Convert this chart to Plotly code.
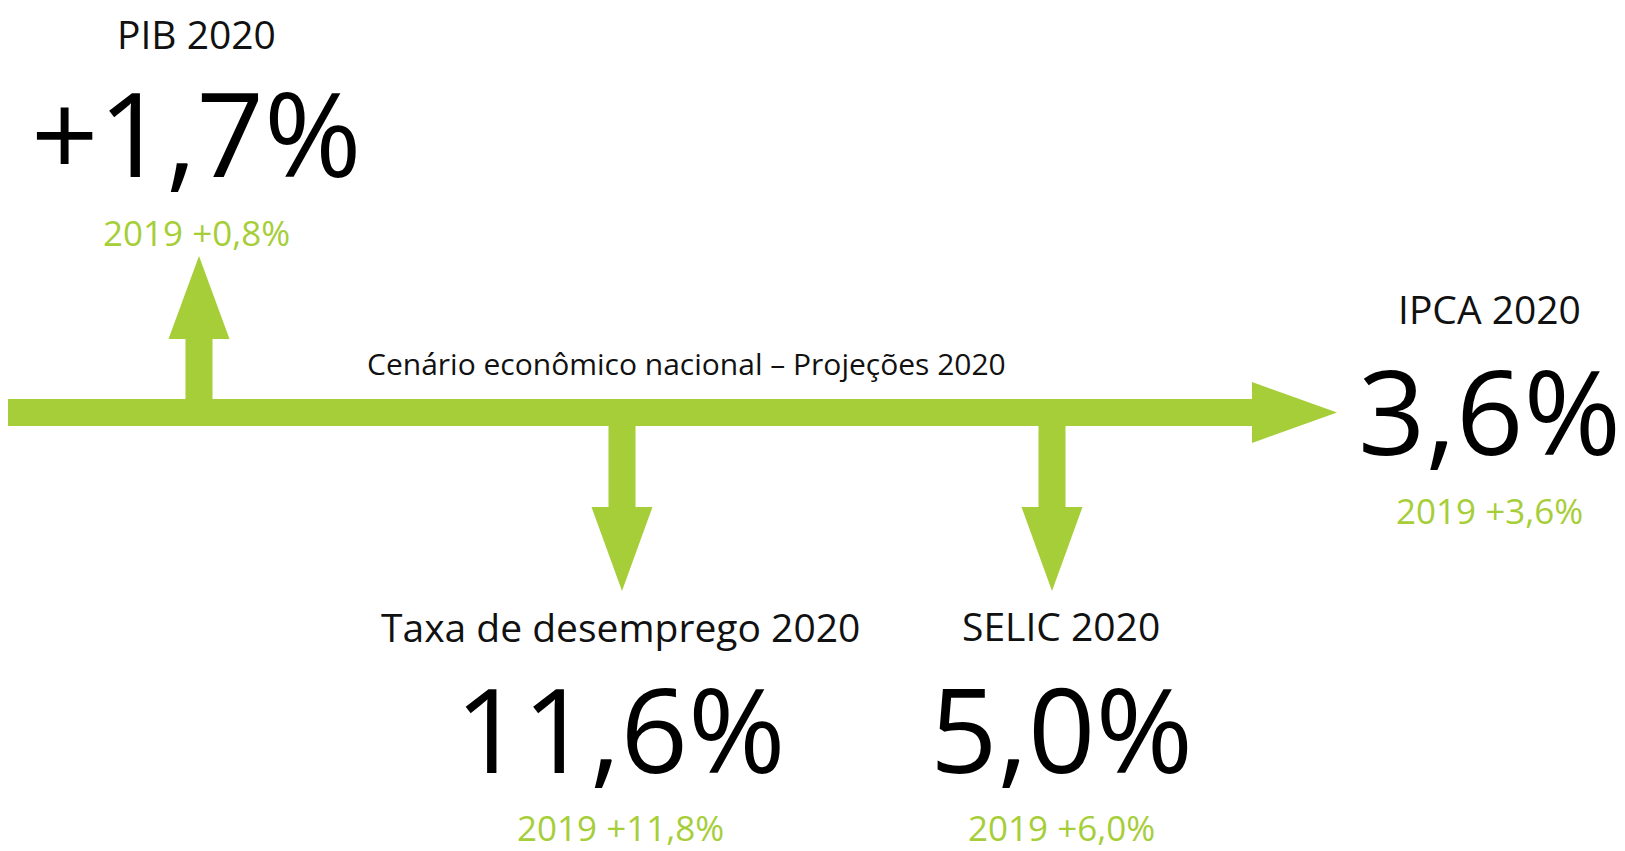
import plotly.graph_objects as go

# indicator data
indicators = ["PIB 2020", "Taxa de desemprego 2020", "SELIC 2020", "IPCA 2020"]
values_2020 = ["+1,7%", "11,6%", "5,0%", "3,6%"]
values_2019 = ["2019 +0,8%", "2019 +11,8%", "2019 +6,0%", "2019 +3,6%"]
subtitle = "Cenário econômico nacional – Projeções 2020"

GREEN = "#A6CE39"
FONT = "Open Sans"
W, H = 1625, 851
PAD = 8  # page body margin, compensated in the axis ranges

# layout of the infographic (pixel space)
bar_y0, bar_y1 = 399, 426
stem_w = 27
head_w = 61
# (x centre, direction) of each branch arrow
branches = [(199, "up"), (622, "down"), (1052, "down")]
label_pos = [(196, 33, 131, 232), (620, 626, 727, 827), (1061, 625, 727, 827), (1489, 308, 409, 510)]

fig = go.Figure()


def poly(xs, ys):
    fig.add_trace(go.Scatter(x=xs + [xs[0]], y=ys + [ys[0]], mode="lines", fill="toself",
                             fillcolor=GREEN, line=dict(color=GREEN, width=0),
                             hoverinfo="skip", showlegend=False))


# main horizontal arrow
mid = (bar_y0 + bar_y1) / 2
poly([0, 1252, 1252, 1337, 1252, 1252, 0],
     [bar_y0, bar_y0, 382, mid, 443, bar_y1, bar_y1])

for cx, d in branches:
    hs, hw = stem_w / 2, head_w / 2
    if d == "up":
        base, tip, start = 339, 256, bar_y0 + 1
    else:
        base, tip, start = 507, 591, bar_y1 - 1
    poly([cx - hs, cx - hs, cx - hw, cx, cx + hw, cx + hs, cx + hs],
         [start, base, base, tip, base, base, start])

for name, v20, v19, (x, y1, y2, y3) in zip(indicators, values_2020, values_2019, label_pos):
    fig.add_annotation(x=x, y=y1, text=name, showarrow=False,
                       font=dict(family=FONT, size=39, color="#111111"))
    fig.add_annotation(x=x, y=y2, text=v20, showarrow=False,
                       font=dict(family=FONT, size=118, color="#000000"))
    fig.add_annotation(x=x, y=y3, text=v19, showarrow=False,
                       font=dict(family=FONT, size=35, color=GREEN))

fig.add_annotation(x=686, y=363, text=subtitle, showarrow=False,
                   font=dict(family=FONT, size=30, color="#111111"))

fig.update_xaxes(range=[PAD, W + PAD], visible=False, fixedrange=True)
fig.update_yaxes(range=[H + PAD, PAD], visible=False, fixedrange=True)
fig.update_layout(width=W, height=H, margin=dict(l=0, r=0, t=0, b=0),
                  plot_bgcolor="white", paper_bgcolor="white")
fig.write_html("out.html")
